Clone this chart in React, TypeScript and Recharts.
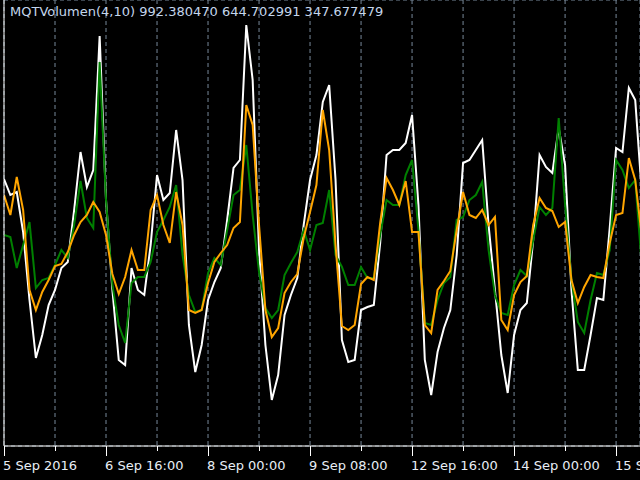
import { LineChart, Line, XAxis, YAxis, CartesianGrid } from "recharts";

// bar index (H1 bars from the left edge of the window)
const bars = [
  0, 2, 4, 6, 8, 10, 12, 14, 16, 18, 20, 22, 24, 26, 28, 30, 32, 34, 36, 38,
  40, 42, 44, 46, 48, 50, 52, 54, 56, 58, 60, 62, 64, 66, 68, 70, 72, 74, 76, 78,
  80, 82, 84, 86, 88, 90, 92, 94, 96, 98, 100, 102, 104, 106, 108, 110, 112, 114, 116, 118,
  120, 122, 124, 126, 128, 130, 132, 134, 136, 138, 140, 142, 144, 146, 148, 150, 152, 154, 156, 158,
  160, 162, 164, 166, 168, 170, 172, 174, 176, 178, 180, 182, 184, 186, 188, 190, 192, 194, 196, 198,
  200,
];

const whiteLine = [
  267, 251, 254, 214, 146, 88, 111, 141, 156, 178,
  184, 236, 294, 259, 276, 410, 246, 156, 86, 81,
  178, 156, 151, 201, 271, 246, 253, 316, 266, 121,
  74, 101, 146, 164, 178, 226, 278, 286, 421, 366,
  196, 101, 46, 71, 131, 151, 168, 221, 266, 291,
  344, 361, 266, 106, 84, 86, 136, 139, 141, 203,
  291, 296, 296, 303, 331, 241, 86, 51, 94, 118,
  136, 191, 283, 286, 296, 306, 221, 156, 91, 53,
  111, 136, 143, 206, 291, 279, 273, 318, 281, 156,
  76, 76, 111, 148, 146, 218, 298, 294, 358, 346,
  256,
];

const greenLine = [
  211, 209, 178, 201, 224, 158, 166, 168, 181, 196,
  188, 221, 265, 228, 218, 384, 246, 161, 121, 103,
  163, 169, 169, 184, 214, 226, 239, 261, 191, 151,
  134, 136, 173, 188, 181, 216, 251, 256, 301, 231,
  174, 138, 128, 136, 171, 183, 194, 216, 196, 221,
  223, 256, 191, 179, 161, 161, 179, 168, 168, 211,
  246, 241, 241, 271, 286, 216, 123, 121, 146, 163,
  169, 226, 229, 246, 251, 264, 196, 151, 133, 131,
  161, 176, 170, 206, 239, 231, 238, 328, 241, 166,
  124, 113, 146, 173, 171, 196, 286, 276, 258, 266,
  183,
];

const orangeLine = [
  251, 231, 269, 236, 156, 136, 154, 166, 180, 182,
  194, 211, 224, 231, 244, 234, 211, 172, 152, 169,
  196, 176, 176, 236, 251, 221, 203, 254, 221, 136,
  133, 136, 163, 184, 193, 201, 218, 224, 341, 321,
  221, 136, 109, 118, 153, 164, 172, 208, 234, 261,
  336, 296, 201, 120, 116, 121, 162, 169, 166, 223,
  268, 256, 241, 265, 214, 214, 121, 113, 156, 165,
  175, 216, 254, 231, 228, 236, 221, 229, 126, 116,
  151, 164, 170, 221, 248, 238, 235, 219, 224, 166,
  143, 159, 171, 169, 168, 203, 231, 233, 288, 266,
  211,
];

const tickBars = [0, 16, 32, 48, 64, 80, 96, 112, 128, 144, 160, 176, 192];
const labelBars = [0, 32, 64, 96, 128, 160, 192];
const labelTexts = [
  "5 Sep 2016",
  "6 Sep 16:00",
  "8 Sep 00:00",
  "9 Sep 08:00",
  "12 Sep 16:00",
  "14 Sep 00:00",
  "15 Sep 08:00",
];
const levelValue = 193;
const title = "MQTVolumen(4,10) 992.380470 644.702991 347.677479";

const data = bars.map((bar, i) => ({
  bar,
  white: whiteLine[i],
  green: greenLine[i],
  orange: orangeLine[i],
}));

const font = "'DejaVu Sans', Tahoma, sans-serif";

function TimeTick(props: any) {
  const { x, y, payload } = props;
  const i = labelBars.indexOf(payload.value);
  const major = i >= 0;
  const px = Math.round(x) + 0.5;
  return (
    <g>
      <line x1={px} y1={y} x2={px} y2={y + (major ? 10 : 5)} stroke="#ffffff" />
      {major && (
        <text x={x - 1} y={y + 24} fill="#e8eef6" fontSize={13} fontFamily={font} textAnchor="start">
          {labelTexts[i]}
        </text>
      )}
    </g>
  );
}

export default function App() {
  return (
    <div
      style={{
        position: "absolute",
        left: 0,
        top: 0,
        width: 640,
        height: 480,
        background: "#000",
        overflow: "hidden",
      }}
    >
      <LineChart width={640} height={480} data={data} margin={{ top: 0, right: 0, left: 0, bottom: 0 }}>
        <CartesianGrid stroke="#778899" strokeDasharray="4 3" />
        <XAxis
          dataKey="bar"
          type="number"
          domain={[0, 199.5]}
          allowDataOverflow
          ticks={tickBars}
          interval={0}
          height={34}
          tickSize={0}
          tickMargin={0}
          tickLine={false}
          axisLine={{ stroke: "#ffffff" }}
          tick={<TimeTick />}
        />
        <YAxis
          width={4}
          domain={[0, 446]}
          allowDataOverflow
          ticks={[levelValue]}
          tick={false}
          tickLine={false}
          axisLine={{ stroke: "#ffffff" }}
        />
        <Line dataKey="white" stroke="#ffffff" strokeWidth={2} dot={false} isAnimationActive={false} />
        <Line dataKey="green" stroke="#008000" strokeWidth={2} dot={false} isAnimationActive={false} />
        <Line dataKey="orange" stroke="#ffa500" strokeWidth={2} dot={false} isAnimationActive={false} />
      </LineChart>
      <div
        style={{
          position: "absolute",
          left: 10,
          top: 4,
          color: "#c4d6ec",
          fontFamily: font,
          fontSize: 13,
          lineHeight: "16px",
          whiteSpace: "nowrap",
        }}
      >
        {title}
      </div>
    </div>
  );
}
